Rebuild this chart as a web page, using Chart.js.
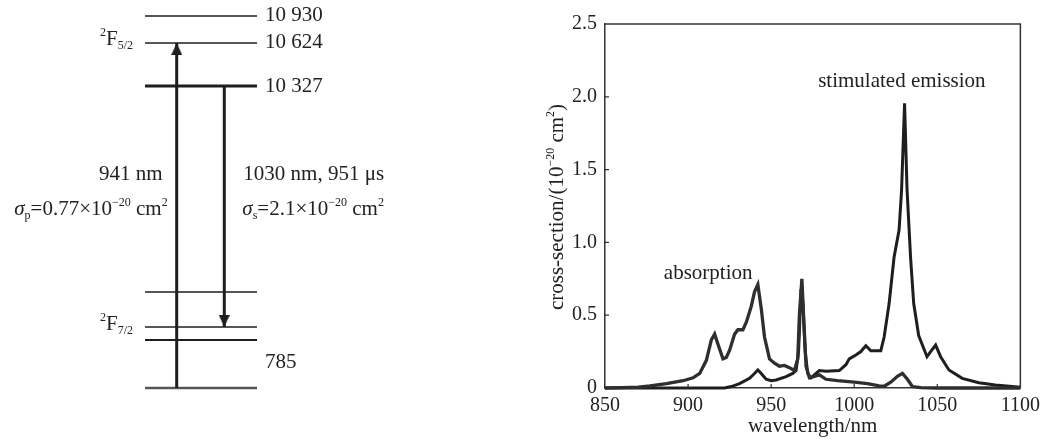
<!DOCTYPE html>
<html>
<head>
<meta charset="utf-8">
<script src="https://cdn.jsdelivr.net/npm/chart.js@4.4.1/dist/chart.umd.min.js"></script>
<style>
html,body{margin:0;padding:0;background:#fff;width:1046px;height:439px;overflow:hidden}
#wrap{position:relative;width:1046px;height:439px}
canvas{position:absolute;top:0}
#c1{left:0}
#c2{left:540px}
</style>
</head>
<body>
<div id="wrap">
<canvas id="c1" width="540" height="439"></canvas>
<canvas id="c2" width="506" height="439"></canvas>
</div>
<script>
// ---------------- DATA ----------------
// Energy level diagram (cm^-1)
const levelEnergies = [10930, 10624, 10327, 785, 612, 565, 0];
const upperLevelLabels = ['10 930', '10 624', '10 327'];
const lowerLevelLabel = '785';
const pumpTransition = [0, 10624];      // 941 nm pump
const laserTransition = [10327, 612];   // 1030 nm laser

// Spectrum: wavelength (nm) / cross-section (1e-20 cm^2)
const absWavelength = [850, 860, 870, 877, 887, 897, 903, 907, 911, 914, 916, 918, 921, 923, 925, 928, 930, 933, 935, 938, 940, 942, 944, 946, 949, 952, 955, 958, 961, 964, 966, 967, 968.5, 969.5, 971, 973, 976, 979, 983, 990, 1000, 1008, 1015, 1018, 1022, 1026, 1029, 1032, 1035, 1040, 1050, 1100];
const absValues     = [0, 0.002, 0.006, 0.014, 0.03, 0.05, 0.07, 0.1, 0.19, 0.33, 0.37, 0.3, 0.2, 0.21, 0.26, 0.37, 0.4, 0.4, 0.45, 0.56, 0.66, 0.71, 0.55, 0.35, 0.2, 0.17, 0.15, 0.155, 0.14, 0.12, 0.2, 0.5, 0.75, 0.5, 0.15, 0.07, 0.08, 0.09, 0.06, 0.05, 0.04, 0.03, 0.015, 0.012, 0.04, 0.08, 0.1, 0.06, 0.01, 0.002, 0, 0];
const emWavelength  = [850, 900, 915, 922, 926, 931, 937, 940, 942, 944, 947, 950, 953, 959, 963, 965, 966.5, 968, 969, 970.5, 972, 974, 976, 979, 983, 991, 995, 997, 1001, 1004, 1007, 1010, 1016, 1018, 1021, 1024, 1027, 1028.5, 1030.3, 1031.8, 1033.9, 1035.8, 1038.8, 1043.8, 1046, 1049, 1052, 1057, 1065, 1075, 1085, 1095, 1100];
const emValues      = [0, 0, 0, 0, 0.01, 0.03, 0.066, 0.1, 0.124, 0.1, 0.06, 0.05, 0.055, 0.078, 0.1, 0.12, 0.25, 0.68, 0.6, 0.25, 0.1, 0.07, 0.09, 0.12, 0.115, 0.12, 0.16, 0.2, 0.227, 0.25, 0.29, 0.256, 0.256, 0.35, 0.58, 0.9, 1.085, 1.36, 1.955, 1.36, 0.9, 0.58, 0.36, 0.215, 0.25, 0.295, 0.215, 0.124, 0.066, 0.036, 0.02, 0.01, 0.005];
const xTickValues = [850, 900, 950, 1000, 1050, 1100];
const yTickValues = [0, 0.5, 1.0, 1.5, 2.0, 2.5];

// ---------------- STYLE / LAYOUT ----------------
const FAMILY = '"Liberation Serif", "Times New Roman", serif';
const INK = '#222';
const LINE = '#1e1e1e';
Chart.defaults.font.family = FAMILY;
Chart.defaults.color = INK;

// schematic (broken) energy axis: [energy, fraction of height from bottom]
const schematicBreaks = [[0, 0.1162], [565, 0.2255], [612, 0.2551], [785, 0.3349], [10327, 0.8041], [10624, 0.9021], [10930, 0.9636]];

class SchematicScale extends Chart.LinearScale {
  getPixelForValue(v) {
    const a = schematicBreaks;
    let f = a[0][1];
    if (v >= a[a.length - 1][0]) f = a[a.length - 1][1];
    else {
      for (let i = 1; i < a.length; i++) {
        if (v <= a[i][0]) {
          const t = (v - a[i - 1][0]) / (a[i][0] - a[i - 1][0]);
          f = a[i - 1][1] + t * (a[i][1] - a[i - 1][1]);
          break;
        }
      }
    }
    return this.getPixelForDecimal(f);
  }
}
SchematicScale.id = 'schematic';
SchematicScale.defaults = Object.assign({}, Chart.LinearScale.defaults);
Chart.register(SchematicScale);

function drawRich(ctx, parts, x, y, align, base) {
  const small = Math.round(base * 0.57);
  const fontOf = k => (k === 'i' ? 'italic ' : '') + ((k === 'sup' || k === 'sub') ? small : base) + 'px ' + FAMILY;
  let total = 0;
  const ws = parts.map(([t, k]) => { ctx.font = fontOf(k); const w = ctx.measureText(t).width; total += w; return w; });
  let cx = align === 'right' ? x - total : align === 'center' ? x - total / 2 : x;
  ctx.textAlign = 'left';
  ctx.textBaseline = 'alphabetic';
  parts.forEach(([t, k], i) => {
    ctx.font = fontOf(k);
    const dy = k === 'sup' ? -base * 0.42 : k === 'sub' ? base * 0.2 : 0;
    ctx.fillText(t, cx, y + dy);
    cx += ws[i];
  });
}

// arrow head image (tip at centre, body below)
function makeHead() {
  const c = document.createElement('canvas');
  c.width = 11; c.height = 24;
  const g = c.getContext('2d');
  g.fillStyle = LINE;
  g.beginPath(); g.moveTo(5.5, 12); g.lineTo(11, 24); g.lineTo(0, 24); g.closePath(); g.fill();
  return c;
}
const head = makeHead();

// ---------------- LEFT: energy level diagram ----------------
const PUMP_X = 0.283, LASER_X = 0.708;
const levelWidth = E => (E === 10327 ? 3 : E === 0 ? 2.5 : E === 565 ? 2 : 1.3);
const levelColor = E => (E === 0 ? '#555' : LINE);

const diagramText = {
  id: 'diagramText',
  afterDraw(chart) {
    const {ctx, chartArea: a, scales: {y, x}} = chart;
    ctx.save();
    ctx.fillStyle = INK;
    const fs = 21;
    ctx.font = fs + 'px ' + FAMILY;
    ctx.textAlign = 'left'; ctx.textBaseline = 'middle';
    upperLevelLabels.forEach((t, i) => ctx.fillText(t, a.right + 8, y.getPixelForValue(levelEnergies[i])));
    const midLow = (y.getPixelForValue(565) + y.getPixelForValue(0)) / 2 - 2;
    ctx.fillText(lowerLevelLabel, a.right + 8, midLow);
    // term symbols
    drawRich(ctx, [['2', 'sup'], ['F', 'n'], ['5/2', 'sub']], a.left - 12, y.getPixelForValue(10624) + 2, 'right', fs);
    drawRich(ctx, [['2', 'sup'], ['F', 'n'], ['7/2', 'sub']], a.left - 12, y.getPixelForValue(612) + 3, 'right', fs);
    // transition labels
    const mid = (y.getPixelForValue(10327) + y.getPixelForValue(785)) / 2;
    const px = x.getPixelForValue(PUMP_X), lx = x.getPixelForValue(LASER_X);
    drawRich(ctx, [['941 nm', 'n']], px - 14, mid - 9, 'right', fs);
    drawRich(ctx, [['σ', 'i'], ['p', 'sub'], ['=0.77×10', 'n'], ['−20', 'sup'], [' cm', 'n'], ['2', 'sup']], px - 9, mid + 26, 'right', fs);
    drawRich(ctx, [['1030 nm, 951 μs', 'n']], lx + 19, mid - 9, 'left', fs);
    drawRich(ctx, [['σ', 'i'], ['s', 'sub'], ['=2.1×10', 'n'], ['−20', 'sup'], [' cm', 'n'], ['2', 'sup']], lx + 18, mid + 26, 'left', fs);
    ctx.restore();
  }
};

const arrowDatasets = [
  {data: [{x: PUMP_X, y: pumpTransition[0]}, {x: PUMP_X, y: pumpTransition[1]}], pointRotation: [0, 0]},
  {data: [{x: LASER_X, y: laserTransition[0]}, {x: LASER_X, y: laserTransition[1]}], pointRotation: [0, 180]}
].map(d => Object.assign(d, {borderColor: LINE, borderWidth: 3, pointRadius: [0, 6], pointStyle: head, clip: false, borderCapStyle: 'butt'}));

const levelDatasets = levelEnergies.map(E => ({
  data: [{x: 0, y: E}, {x: 1, y: E}],
  borderColor: levelColor(E), borderWidth: levelWidth(E), pointRadius: 0, clip: false
}));

new Chart(document.getElementById('c1'), {
  type: 'line',
  data: {datasets: arrowDatasets.concat(levelDatasets)},
  options: {
    responsive: false, animation: false, events: [],
    layout: {autoPadding: false, padding: {left: 145, right: 283, top: 0, bottom: 0}},
    plugins: {legend: {display: false}, tooltip: {enabled: false}},
    scales: {
      x: {type: 'linear', min: 0, max: 1, display: false},
      y: {type: 'schematic', min: 0, max: 11000, display: false}
    }
  },
  plugins: [diagramText]
});

// ---------------- RIGHT: spectrum ----------------
const AXIS = '#333';
const spectrumDecor = {
  id: 'spectrumDecor',
  afterDraw(chart) {
    const {ctx, chartArea: a, scales: {x, y}} = chart;
    ctx.save();
    ctx.strokeStyle = AXIS; ctx.lineWidth = 1.5;
    ctx.beginPath();
    ctx.moveTo(a.left, a.top); ctx.lineTo(a.right, a.top); ctx.lineTo(a.right, a.bottom);
    ctx.stroke();
    ctx.lineWidth = 1.2;
    ctx.beginPath();
    x.ticks.forEach(t => { if (t.value > x.min && t.value < x.max) { const p = x.getPixelForValue(t.value); ctx.moveTo(p, a.bottom); ctx.lineTo(p, a.bottom - 4); } });
    y.ticks.forEach(t => { if (t.value > y.min && t.value < y.max) { const p = y.getPixelForValue(t.value); ctx.moveTo(a.left, p); ctx.lineTo(a.left + 4, p); } });
    ctx.stroke();
    ctx.fillStyle = INK;
    drawRich(ctx, [['absorption', 'n']], x.getPixelForValue(885.4), y.getPixelForValue(0.75), 'left', 21);
    drawRich(ctx, [['stimulated emission', 'n']], x.getPixelForValue(978.3), y.getPixelForValue(2.07), 'left', 21);
    // y-axis title
    ctx.translate(23, (a.top + a.bottom) / 2 + 1);
    ctx.rotate(-Math.PI / 2);
    drawRich(ctx, [['cross-section/(10', 'n'], ['−20', 'sup'], [' cm', 'n'], ['2', 'sup'], [')', 'n']], 0, 0, 'center', 21);
    ctx.restore();
  }
};

new Chart(document.getElementById('c2'), {
  type: 'line',
  data: {
    datasets: [
      {label: 'absorption', data: absWavelength.map((w, i) => ({x: w, y: absValues[i]})), borderColor: '#2e2e2e', borderWidth: 3.3, pointRadius: 0, tension: 0, clip: false},
      {label: 'stimulated emission', data: emWavelength.map((w, i) => ({x: w, y: emValues[i]})), borderColor: LINE, borderWidth: 3, pointRadius: 0, tension: 0, clip: false}
    ]
  },
  options: {
    responsive: false, animation: false, events: [],
    layout: {autoPadding: false, padding: {left: 0, right: 24, top: 24, bottom: 0}},
    plugins: {legend: {display: false}, tooltip: {enabled: false}},
    scales: {
      x: {
        type: 'linear', min: xTickValues[0], max: xTickValues[xTickValues.length - 1],
        afterFit: s => { s.height = 51; },
        afterBuildTicks: s => { s.ticks = xTickValues.map(v => ({value: v})); },
        grid: {display: false, drawTicks: false},
        border: {display: true, color: AXIS, width: 1.5},
        ticks: {font: {size: 20}, color: INK, padding: 6, maxRotation: 0, autoSkip: false, callback: v => String(v)},
        title: {display: true, text: 'wavelength/nm', font: {size: 21}, color: INK, padding: {top: 0, bottom: 0}}
      },
      y: {
        type: 'linear', min: yTickValues[0], max: yTickValues[yTickValues.length - 1],
        afterFit: s => { s.width = 65; },
        afterBuildTicks: s => { s.ticks = yTickValues.map(v => ({value: v})); },
        grid: {display: false, drawTicks: false},
        border: {display: true, color: AXIS, width: 1.5},
        ticks: {font: {size: 20}, color: INK, padding: 8, autoSkip: false, callback: v => (v === 0 ? '0' : v.toFixed(1))}
      }
    }
  },
  plugins: [spectrumDecor]
});
</script>
</body>
</html>
